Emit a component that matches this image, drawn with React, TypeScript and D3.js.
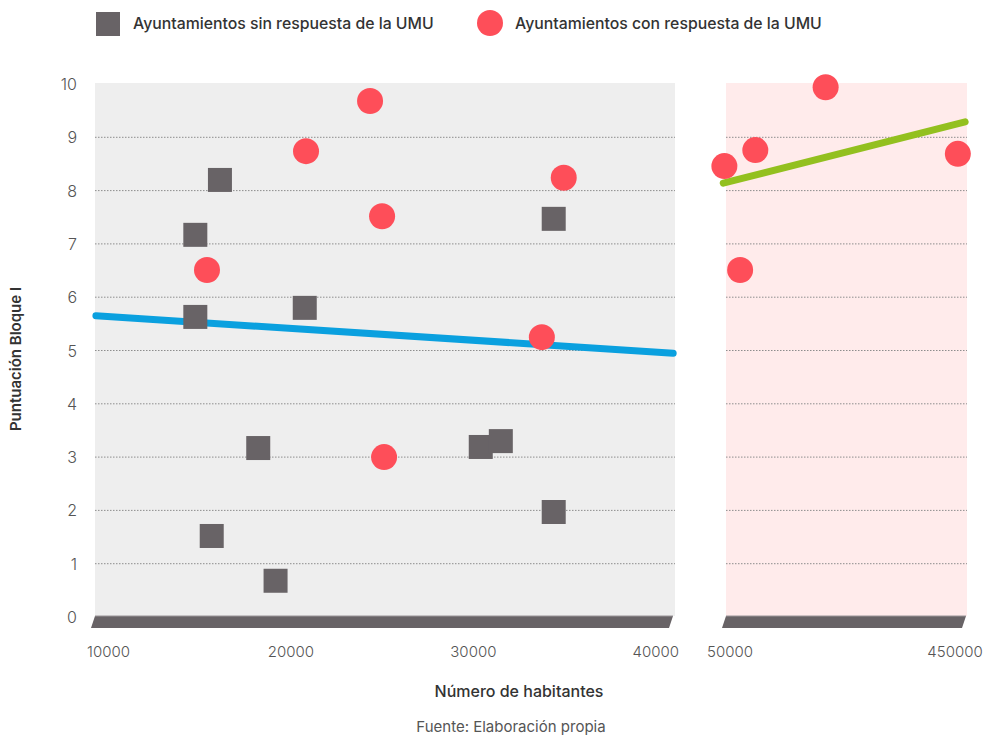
import * as d3 from 'd3'

const W = 989
const H = 738

// y values (Puntuación Bloque I)
const yTicks = [0, 1, 2, 3, 4, 5, 6, 7, 8, 9, 10]
const gridValues = [1, 2, 3, 4, 5, 6, 7, 8, 9]

// left panel: 10000 - 40000 habitantes
const leftTicks = [10000, 20000, 30000, 40000]
const squaresX = [14700, 16050, 14700, 20700, 18150, 15600, 19100, 30350, 31450, 34350, 34350]
const squaresY = [7.17, 8.2, 5.63, 5.8, 3.17, 1.52, 0.68, 3.19, 3.3, 7.47, 1.97]
const circlesLeftX = [24280, 20770, 24940, 15340, 34900, 33700, 25050]
const circlesLeftY = [9.68, 8.74, 7.52, 6.51, 8.24, 5.25, 3.0]
const trendLeftX = [9250, 40900]
const trendLeftY = [5.65, 4.95]

// right panel: 50000 - 450000 habitantes
const rightTicks = [50000, 450000]
const circlesRightX = [40000, 95000, 220000, 455000, 68000]
const circlesRightY = [8.46, 8.76, 9.94, 8.69, 6.51]
const trendRightX = [38000, 468000]
const trendRightY = [8.14, 9.29]

const legendLabels = ['Ayuntamientos sin respuesta de la UMU', 'Ayuntamientos con respuesta de la UMU']

const GREY = '#686366'
const RED = '#fe4e59'
const BLUE = '#0aa0df'
const GREEN = '#93c01f'
const FONT = 'Inter, "Open Sans", sans-serif'

const top = 83
const bottom = 616
const left = { x0: 95, x1: 675 }
const right = { x0: 726, x1: 967 }

export default function App() {
  const y = d3.scaleLinear().domain([0, 10]).range([617, 84])
  const xl = d3.scaleLinear().domain([9200, 41000]).range([left.x0, left.x1])
  const xr = d3.scaleLinear().domain([42900, 471300]).range([right.x0, right.x1])
  const line = d3.line<[number, number]>()

  const base = (x0: number, x1: number) => {
    const s = 4
    return `M${x0},${bottom} L${x1 - 2},${bottom} L${x1 - 2 - s},${bottom + 12} L${x0 - s},${bottom + 12} Z`
  }

  return (
    <div style={{ position: 'absolute', left: 0, top: 0 }}>
      <svg width={W} height={H} style={{ display: 'block', fontFamily: FONT }}>
        <rect width={W} height={H} fill="#fff" />

        {/* legend */}
        <rect x={96} y={12} width={24} height={24} fill={GREY} />
        <text x={133} y={29} fontSize={15.8} fontWeight={500} fill="#333">{legendLabels[0]}</text>
        <circle cx={490} cy={23} r={13} fill={RED} />
        <text x={515} y={29} fontSize={15.8} fontWeight={500} fill="#333">{legendLabels[1]}</text>

        {/* panels */}
        <rect x={left.x0} y={top} width={left.x1 - left.x0} height={bottom - top} fill="#eeeeee" />
        <rect x={right.x0} y={top} width={right.x1 - right.x0} height={bottom - top} fill="#ffebeb" />

        {gridValues.map(v => (
          <g key={v}>
            <line x1={left.x0} x2={left.x1} y1={y(v)} y2={y(v)} stroke="#8d8d8d" strokeWidth={1} strokeDasharray="1.5,1.5" />
            <line x1={right.x0} x2={right.x1} y1={y(v)} y2={y(v)} stroke="#8d8d8d" strokeWidth={1} strokeDasharray="1.5,1.5" />
          </g>
        ))}

        {/* base bars */}
        <path d={base(left.x0, left.x1)} fill={GREY} />
        <path d={base(right.x0, right.x1 + 1)} fill={GREY} />
        <line x1={left.x0} x2={left.x1 - 2} y1={bottom} y2={bottom} stroke="#9a9598" strokeWidth={1} />
        <line x1={right.x0} x2={right.x1 - 1} y1={bottom} y2={bottom} stroke="#9a9598" strokeWidth={1} />

        {/* y ticks */}
        {yTicks.map(v => (
          <text key={v} x={77} y={y(v) + 6} textAnchor="end" fontSize={16} fontWeight={300} fill="#555">{v}</text>
        ))}

        {/* x ticks */}
        {leftTicks.map(v => (
          <text key={v} x={xl(v) - 1} y={657} textAnchor="middle" fontSize={15} fontWeight={300} fill="#555">{v}</text>
        ))}
        {rightTicks.map(v => (
          <text key={v} x={xr(v)} y={657} textAnchor="middle" fontSize={15} fontWeight={300} fill="#555">{v}</text>
        ))}

        {/* trend lines */}
        <path d={line(trendLeftX.map((v, i) => [xl(v), y(trendLeftY[i])]))!} stroke={BLUE} strokeWidth={7} strokeLinecap="round" fill="none" />
        <path d={line(trendRightX.map((v, i) => [xr(v), y(trendRightY[i])]))!} stroke={GREEN} strokeWidth={7} strokeLinecap="round" fill="none" />

        {/* points */}
        {squaresX.map((v, i) => (
          <rect key={'s' + i} x={xl(v) - 12} y={y(squaresY[i]) - 12} width={24} height={24} fill={GREY} />
        ))}
        {circlesLeftX.map((v, i) => (
          <circle key={'cl' + i} cx={xl(v)} cy={y(circlesLeftY[i])} r={13} fill={RED} />
        ))}
        {circlesRightX.map((v, i) => (
          <circle key={'cr' + i} cx={xr(v)} cy={y(circlesRightY[i])} r={13} fill={RED} />
        ))}

        {/* axis titles */}
        <text transform="translate(21,359) rotate(-90)" textAnchor="middle" fontSize={15} fontWeight={600} fill="#333">Puntuación Bloque I</text>
        <text x={519} y={697} textAnchor="middle" fontSize={16} fontWeight={500} fill="#333">Número de habitantes</text>
        <text x={511} y={732} textAnchor="middle" fontSize={15} fill="#555">Fuente: Elaboración propia</text>
      </svg>
    </div>
  )
}
